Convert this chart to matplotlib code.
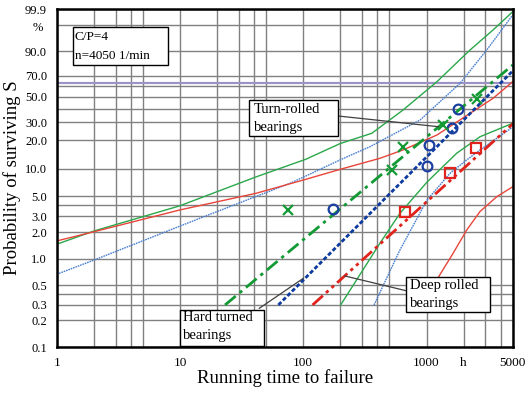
import numpy as np
import matplotlib
matplotlib.use('Agg')
import matplotlib.pyplot as plt
from matplotlib.patches import Rectangle
from matplotlib.lines import Line2D
from matplotlib.ticker import FixedLocator, FixedFormatter, NullFormatter

plt.rcParams['font.family'] = ['Liberation Serif', 'DejaVu Serif']

# ---------------- data ----------------
# Hard turned bearings (blue circles)
ht_x = [173, 1003, 1053, 1600, 1810]
ht_p = [3.6, 10.75, 17.9, 26.3, 39.4]
ht_fit_x = [62.8, 5000]
ht_fit_p = [0.3, 74.5]
ht_up_x = [1, 2.01, 14.5, 78, 105, 199, 348, 885, 1869, 3077, 4173, 5000]
ht_up_p = [0.668, 0.968, 2.86, 6.98, 8.39, 12.5, 17.2, 31.5, 62.8, 90.6, 98.5, 99.73]
ht_lo_x = [375, 609, 1009, 1550, 2118, 2715, 5000]
ht_lo_p = [0.30, 1.26, 4.57, 8.97, 12.5, 15.9, 27.0]

# Turn-rolled bearings (green crosses)
tr_x = [74.8, 522, 648, 1368, 2582]
tr_p = [3.53, 9.7, 17.2, 28.3, 47.9]
tr_fit_x = [23.2, 5000]
tr_fit_p = [0.3, 79.7]
tr_up_x = [1, 2.01, 9.87, 41.4, 105, 199, 360, 645, 1216, 2253, 3462, 5000]
tr_up_p = [1.46, 2.06, 3.92, 8.2, 12.7, 18.5, 23.5, 38.9, 64.4, 90.6, 98.15, 99.84]
tr_lo_x = [201, 419, 609, 1009, 1757, 2715, 5000]
tr_lo_p = [0.30, 1.50, 3.25, 7.2, 14.7, 21.7, 29.4]

# Deep rolled bearings (red squares)
dr_x = [669, 1550, 2506]
dr_p = [3.38, 9.1, 16.5]
dr_fit_x = [119, 5000]
dr_fit_p = [0.3, 28.9]
dr_up_x = [1, 2.01, 9.87, 41.4, 105, 199, 419, 645, 1216, 2253, 3462, 5000]
dr_up_p = [1.59, 2.02, 3.53, 5.42, 7.72, 9.9, 13.0, 15.9, 22.6, 36.3, 48.7, 64.4]
dr_lo_x = [1230, 1640, 2118, 2715, 3710, 5000]
dr_lo_p = [0.6, 1.15, 2.11, 3.4, 4.97, 6.40]

char_life = 63.2

x_ticks = [1, 10, 100, 1000, 2000, 5000]
x_labels = ['1', '10', '100', '1000', 'h', '5000']
x_minor = [2, 3, 4, 5, 20, 30, 40, 50, 200, 300, 400, 500, 3000, 4000]
y_ticks = [0.1, 0.2, 0.3, 0.5, 1, 2, 3, 5, 10, 20, 30, 50, 70, 90, 99.9]
y_labels = ['0.1', '0.2', '0.3', '0.5', '1.0', '2.0', '3.0', '5.0', '10.0',
            '20.0', '30.0', '50.0', '70.0', '90.0', '99.9']
y_minor = [0.4, 4, 40, 60, 99]

# ---------------- scale ----------------
def fwd(p):
    p = np.clip(np.asarray(p, dtype=float), 1e-6, 100 - 1e-9)
    return np.log10(-np.log(1 - p / 100.0))

def inv(t):
    t = np.asarray(t, dtype=float)
    return 100.0 * (1 - np.exp(-10.0 ** t))

fig = plt.figure(figsize=(5.29, 3.95), dpi=100)
ax = fig.add_axes([0.1072, 0.1215, 0.8620, 0.8557])
ax.set_xscale('log')
ax.set_yscale('function', functions=(fwd, inv))
ax.set_xlim(1, 5000)
ax.set_ylim(0.1, 99.9)

ax.xaxis.set_major_locator(FixedLocator(x_ticks))
ax.xaxis.set_major_formatter(FixedFormatter(x_labels))
ax.xaxis.set_minor_locator(FixedLocator(x_minor))
ax.xaxis.set_minor_formatter(NullFormatter())
ax.yaxis.set_major_locator(FixedLocator(y_ticks))
ax.yaxis.set_major_formatter(FixedFormatter(y_labels))
ax.yaxis.set_minor_locator(FixedLocator(y_minor))
ax.yaxis.set_minor_formatter(NullFormatter())

ax.grid(True, which='both', color='#808080', lw=1.0, zorder=0)
ax.set_axisbelow(True)
ax.tick_params(which='both', length=0)
ax.tick_params(axis='x', pad=7, labelsize=9.5)
ax.tick_params(axis='y', pad=7, labelsize=9)
for s in ax.spines.values():
    s.set_linewidth(1.8)
    s.set_color('black')
    s.set_zorder(10)

ax.axhline(char_life, color='#9c92c6', lw=1.6, zorder=1)

green = '#139a34'
green_l = '#2aa84a'
blue = '#0c3a9e'
blue_l = '#4a7fd0'
red = '#e0231c'
red_l = '#e8453a'

# confidence bands
ax.plot(tr_up_x, tr_up_p, color=green_l, lw=1.0, zorder=3)
ax.plot(tr_lo_x, tr_lo_p, color=green_l, lw=1.0, zorder=3)
ax.plot(ht_up_x, ht_up_p, color=blue_l, lw=1.0, ls=(0, (1.2, 0.6)), zorder=3)
ax.plot(ht_lo_x, ht_lo_p, color=blue_l, lw=1.0, ls=(0, (1.2, 0.6)), zorder=3)
ax.plot(dr_up_x, dr_up_p, color=red_l, lw=1.0, zorder=3)
ax.plot(dr_lo_x, dr_lo_p, color=red_l, lw=1.0, zorder=3)

# fitted lines
ax.plot(tr_fit_x, tr_fit_p, color=green, lw=2.0, ls=(0, (5, 1.8, 1.2, 1.8)), zorder=4)
ax.plot(ht_fit_x, ht_fit_p, color=blue, lw=2.0, ls=(0, (1.5, 0.8)), zorder=4)
ax.plot(dr_fit_x, dr_fit_p, color=red, lw=2.0, ls=(0, (5, 1.5, 1.2, 1.5, 1.2, 1.5)), zorder=4)

# points
ax.plot(ht_x, ht_p, ls='none', marker='o', ms=7, mfc='none', mec='#1a3fa0', mew=1.6, zorder=5)
ax.plot(tr_x, tr_p, ls='none', marker='x', ms=7, mec=green, mew=1.6, zorder=5)
ax.plot(dr_x, dr_p, ls='none', marker='s', ms=7, mfc='none', mec=red, mew=1.6, zorder=5)

# annotation boxes (axes fraction)
def box(x0, y0, x1, y1, lines, tx, ty_list, fs=10.5):
    r = Rectangle((x0, y0), x1 - x0, y1 - y0, transform=ax.transAxes,
                  facecolor='white', edgecolor='black', lw=1.0, zorder=8)
    ax.add_patch(r)
    for ln, ty in zip(lines, ty_list):
        ax.text(tx, ty, ln, transform=ax.transAxes, ha='left', va='center',
                fontsize=fs, zorder=9)

def leader(p0, p1):
    ax.add_line(Line2D([p0[0], p1[0]], [p0[1], p1[1]], transform=ax.transAxes,
                       color='#404040', lw=0.9, zorder=7))

box(0.0351, 0.8343, 0.2434, 0.9476, ['C/P=4', 'n=4050 1/min'], 0.040, [0.918, 0.862], fs=9.5)

leader((0.6175, 0.6834), (0.8368, 0.6518))
box(0.4217, 0.6243, 0.6175, 0.7308, ['Turn-rolled', 'bearings'], 0.432, [0.703, 0.650])

leader((0.4443, 0.1145), (0.5408, 0.2033))
box(0.2704, 0.002, 0.4553, 0.1095, ['Hard turned', 'bearings'], 0.277, [0.087, 0.034])

leader((0.6322, 0.2101), (0.7660, 0.1666))
box(0.7660, 0.1044, 0.9502, 0.2080, ['Deep rolled', 'bearings'], 0.775, [0.183, 0.129])

ax.text(-0.041, 0.944, '%', transform=ax.transAxes, ha='center', va='center', fontsize=9)

ax.set_xlabel('Running time to failure', fontsize=13.5, labelpad=0)
ax.set_ylabel('Probability of surviving S', fontsize=13.5, labelpad=3)

fig.savefig('out.png', dpi=100)
